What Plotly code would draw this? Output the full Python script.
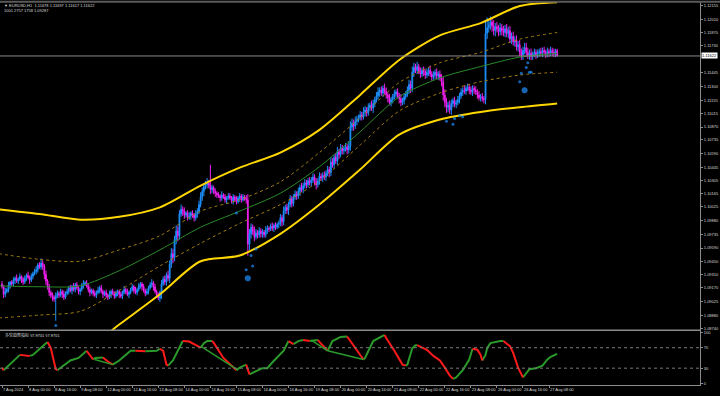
import plotly.graph_objects as go

# ---------------- data ----------------
first_open = 1.0921
close = [
 1.0918, 1.0910, 1.0913, 1.0915, 1.0920, 1.0923, 1.0921, 1.0925, 1.0927, 1.0924,
 1.0926, 1.0929, 1.0926, 1.0923, 1.0927, 1.0930, 1.0928, 1.0925, 1.0929, 1.0932,
 1.0934, 1.0936, 1.0941, 1.0939, 1.0943, 1.0940, 1.0931, 1.0924, 1.0918, 1.0912,
 1.0909, 1.0907, 1.0905, 1.0908, 1.0911, 1.0909, 1.0913, 1.0910, 1.0907, 1.0911,
 1.0913, 1.0917, 1.0914, 1.0918, 1.0915, 1.0920, 1.0917, 1.0913, 1.0915, 1.0919,
 1.0921, 1.0922, 1.0919, 1.0915, 1.0912, 1.0914, 1.0911, 1.0909, 1.0912, 1.0914,
 1.0917, 1.0913, 1.0910, 1.0912, 1.0909, 1.0907, 1.0910, 1.0913, 1.0911, 1.0908,
 1.0911, 1.0913, 1.0910, 1.0908, 1.0912, 1.0915, 1.0913, 1.0910, 1.0912, 1.0915,
 1.0918, 1.0914, 1.0912, 1.0915, 1.0919, 1.0921, 1.0918, 1.0914, 1.0911, 1.0913,
 1.0917, 1.0920, 1.0922, 1.0918, 1.0913, 1.0909, 1.0906, 1.0912, 1.0921, 1.0926,
 1.0923, 1.0930, 1.0927, 1.0942, 1.0953, 1.0949, 1.0968, 1.0977, 1.0972, 1.0995,
 1.1000, 1.0998, 1.0994, 1.0996, 1.0992, 1.0993, 1.0996, 1.0994, 1.0991, 1.0995,
 1.0998, 1.1005, 1.1013, 1.1019, 1.1024, 1.1026, 1.1028, 1.1025, 1.1021, 1.1023,
 1.1019, 1.1017, 1.1015, 1.1014, 1.1012, 1.1015, 1.1013, 1.1010, 1.1012, 1.1014,
 1.1012, 1.1009, 1.1013, 1.1010, 1.1008, 1.1012, 1.1014, 1.1010, 1.1013, 1.1012,
 1.1010, 1.0963, 1.0974, 1.0981, 1.0977, 1.0971, 1.0975, 1.0973, 1.0977, 1.0974,
 1.0976, 1.0973, 1.0978, 1.0980, 1.0979, 1.0982, 1.0980, 1.0983, 1.0981, 1.0984,
 1.0985, 1.0991, 1.0987, 1.0998, 1.1002, 1.0999, 1.1005, 1.1011, 1.1006, 1.1013,
 1.1016, 1.1014, 1.1019, 1.1023, 1.1021, 1.1025, 1.1028, 1.1026, 1.1030, 1.1028,
 1.1031, 1.1034, 1.1029, 1.1026, 1.1030, 1.1035, 1.1033, 1.1036, 1.1034, 1.1038,
 1.1042, 1.1039, 1.1050, 1.1047, 1.1055, 1.1051, 1.1061, 1.1058, 1.1065, 1.1062,
 1.1064, 1.1066, 1.1063, 1.1067, 1.1087, 1.1091, 1.1088, 1.1093, 1.1095, 1.1097,
 1.1100, 1.1098, 1.1103, 1.1105, 1.1102, 1.1108, 1.1110, 1.1107, 1.1112, 1.1116,
 1.1120, 1.1124, 1.1126, 1.1123, 1.1128, 1.1125, 1.1121, 1.1118, 1.1113, 1.1116,
 1.1119, 1.1122, 1.1124, 1.1120, 1.1117, 1.1113, 1.1115, 1.1119, 1.1122, 1.1126,
 1.1132, 1.1128, 1.1145, 1.1150, 1.1147, 1.1151, 1.1146, 1.1143, 1.1147, 1.1145,
 1.1142, 1.1145, 1.1147, 1.1143, 1.1140, 1.1142, 1.1145, 1.1141, 1.1143, 1.1139,
 1.1135, 1.1121, 1.1113, 1.1108, 1.1110, 1.1105, 1.1112, 1.1115, 1.1111, 1.1113,
 1.1116, 1.1120, 1.1124, 1.1126, 1.1125, 1.1128, 1.1129, 1.1126, 1.1124, 1.1128,
 1.1126, 1.1124, 1.1121, 1.1118, 1.1119, 1.1117, 1.1116, 1.1186, 1.1192, 1.1195,
 1.1198, 1.1194, 1.1189, 1.1193, 1.1191, 1.1188, 1.1192, 1.1189, 1.1187, 1.1191,
 1.1186, 1.1189, 1.1180, 1.1183, 1.1177, 1.1179, 1.1172, 1.1174, 1.1166, 1.1163,
 1.1168, 1.1171, 1.1166, 1.1163, 1.1165, 1.1162, 1.1164, 1.1166, 1.1163, 1.1165,
 1.1167, 1.1165, 1.1168, 1.1166, 1.1164, 1.1167, 1.1165, 1.1168, 1.1166, 1.1164,
 1.11678, 1.11622,
]
# wick lengths beyond the candle body, in pips (0.0001)
wick_up_pips = [
 3,2,4,2,3,1,2,3,2,4, 2,3,1,2,3,2,4,2,3,2, 3,4,2,3,5,3,2,4,2,3, 2,3,2,4,3,2,3,2,4,2,
 3,2,3,2,4,2,3,2,2,3, 4,2,3,2,3,2,2,3,2,4, 2,3,2,2,3,2,4,2,3,2, 3,2,2,3,2,4,2,3,2,2,
 3,2,4,2,3,2,2,3,2,3, 2,3,4,2,3,2,3,2,4,3, 4,3,5,4,6,5,4,6,5,4, 5,3,4,2,3,4,2,3,2,4,
 3,4,5,4,3,4,5,3,2,3, 2,3,2,3,2,4,2,3,2,3, 3,2,3,2,4,2,3,2,3,2, 3,6,5,4,3,5,4,3,4,3,
 3,2,4,3,2,3,4,2,3,2, 3,4,3,5,3,4,3,4,3,3, 4,3,4,3,5,3,4,3,3,4, 3,4,3,4,3,4,3,3,4,3,
 4,3,5,4,3,4,5,3,4,3, 3,4,3,5,6,5,4,5,4,3, 4,3,5,4,3,4,3,5,4,3, 4,5,3,4,3,5,4,3,4,3,
 3,4,3,4,3,5,3,4,3,4, 5,4,6,5,4,5,3,4,3,4, 3,4,3,5,3,4,3,4,3,4, 4,5,6,5,4,5,4,3,4,3,
 4,3,4,3,5,3,4,3,4,3, 3,4,3,4,3,4,3,8,7,6, 6,5,6,4,5,4,5,4,5,4, 5,4,5,4,5,4,5,4,5,4,
 4,5,4,5,4,5,3,4,3,4, 3,4,3,4,3,4,3,4,3,4, 2,3,
]
wick_dn_pips = [
 2,4,3,2,3,4,2,3,4,2, 3,2,4,3,2,3,2,4,2,3, 2,3,3,2,3,4,5,4,3,4, 3,4,3,6,2,3,2,4,3,2,
 2,3,2,4,2,3,2,3,4,2, 3,2,2,3,4,2,3,2,3,2, 3,2,4,2,3,3,2,4,2,3, 2,3,4,2,3,2,3,2,4,2,
 2,3,2,3,2,3,4,2,3,2, 3,2,3,4,2,3,2,4,3,2, 3,4,3,5,4,6,4,5,6,4, 3,5,4,3,4,3,4,3,4,3,
 4,3,3,4,5,3,4,3,5,4, 3,4,3,2,4,3,2,3,4,2, 2,3,4,2,3,2,4,3,2,3, 4,8,6,5,4,5,3,4,3,4,
 4,3,3,4,3,2,3,4,3,2, 4,3,5,4,3,4,5,3,4,3, 3,4,3,5,3,4,3,4,3,3, 4,3,4,5,3,4,3,4,3,4,
 3,5,4,3,4,3,4,5,3,4, 4,3,5,4,5,4,5,3,4,3, 3,4,3,5,4,3,4,3,5,4, 3,4,5,3,4,3,4,5,3,4,
 4,3,4,3,5,4,3,4,3,3, 4,5,4,5,3,4,3,4,3,4, 4,3,4,3,4,3,4,3,4,3, 5,6,5,6,5,4,5,4,3,4,
 3,4,3,4,3,4,3,4,3,4, 4,3,4,3,4,3,4,5,6,5, 5,6,5,6,4,5,4,5,4,5, 4,5,4,5,4,5,4,5,4,5,
 5,4,5,4,5,4,4,3,4,3, 4,3,4,3,4,3,4,3,4,3, 3,2,
]
spike_highs = {128: 1.1047, 213: 1.1070, 297: 1.1200, 298: 1.1203, 322: 1.1176, 341: 1.11697}
spike_lows = {33: 1.0882, 98: 1.0905, 151: 1.0951, 273: 1.1103, 341: 1.11617}

band_bars   = [-2, 23, 48, 72, 97, 122, 146, 171, 195, 220, 244, 269, 294, 318, 341]
upper_outer = [1.1000, 1.0995, 1.0989, 1.0992, 1.1002, 1.1025, 1.1044, 1.1060, 1.1084, 1.1121, 1.1158, 1.1184, 1.1197, 1.1215, 1.1219]
upper_inner = [1.0953, 1.0947, 1.0945, 1.0957, 1.0972, 1.0998, 1.1010, 1.1029, 1.1060, 1.1097, 1.1134, 1.1155, 1.1166, 1.1180, 1.1187]
middle_line = [1.0919, 1.0918, 1.0919, 1.0935, 1.0957, 1.0981, 1.0998, 1.1017, 1.1045, 1.1082, 1.1119, 1.1139, 1.1151, 1.1161, 1.1165]
lower_inner = [1.0885, 1.0888, 1.0892, 1.0914, 1.0940, 1.0964, 1.0985, 1.1005, 1.1030, 1.1068, 1.1104, 1.1123, 1.1135, 1.1142, 1.1145]
lower_outer = [1.0836, 1.0839, 1.0847, 1.0878, 1.0910, 1.0945, 1.0951, 1.0974, 1.1005, 1.1042, 1.1079, 1.1095, 1.1103, 1.1108, 1.1112]

dot_bars   = [33, 144, 150, 151, 153, 154, 156, 273, 277, 278, 281, 283, 318, 319, 321, 322, 323, 324, 325]
dot_prices = [1.0877, 1.0996, 1.0936, 1.0927, 1.0951, 1.0940, 1.0958, 1.1093, 1.1090, 1.1096, 1.1099, 1.1098,
              1.1135, 1.1144, 1.1126, 1.1150, 1.1155, 1.1145, 1.1145]
dot_sizes  = [3, 3, 3, 6, 3, 3, 3, 3, 3, 3, 3, 3, 3, 3, 6, 3, 3, 3, 3]

osc_bars = [0,1,7,11,17,19,26,28,30,33,34,42,47,52,56,57,62,65,68,72,79,82,88,95,97,99,101,102,105,111,
            115,122,124,126,129,130,136,142,144,146,150,151,152,157,160,163,166,173,176,179,182,185,189,192,194,
            200,203,208,211,212,216,219,222,223,228,235,236,241,246,248,249,252,254,255,261,265,269,272,275,277,
            279,283,287,289,292,294,295,297,298,300,306,308,312,314,317,320,321,324,328,332,335,337,341]
osc_vals = [31,26,43,56,54,56,76,81,69,28,26,45,50,64,47,50,51,43,37,45,64,64,63,64,68,64,37,35,45,83,
            82,70,79,83,83,80,50,31,26,31,37,27,18,26,30,30,41,64,83,77,83,85,83,85,85,
            64,83,91,92,92,73,60,47,50,83,95,89,64,37,35,37,69,75,75,66,54,45,31,16,9,
            12,26,47,68,66,56,45,56,69,79,83,83,73,60,31,12,16,28,30,35,47,52,58]
divergence_lines = [((57, 47), (68, 37)), ((122, 73), (145, 26)), ((190, 85), (200, 64)), ((200, 64), (222, 47))]

x_tick_bars = list(range(0, 337, 16))
x_tick_text = ['7 Aug 2024', '8 Aug 00:00', '8 Aug 16:00', '9 Aug 08:00', '12 Aug 00:00', '12 Aug 16:00',
               '13 Aug 08:00', '14 Aug 00:00', '14 Aug 16:00', '15 Aug 08:00', '16 Aug 00:00', '16 Aug 16:00',
               '19 Aug 08:00', '20 Aug 00:00', '20 Aug 16:00', '21 Aug 08:00', '22 Aug 00:00', '22 Aug 16:00',
               '23 Aug 08:00', '26 Aug 00:00', '26 Aug 16:00', '27 Aug 08:00']
y_tick_text = ['1.12155', '1.12010', '1.11870', '1.11730', '1.11445', '1.11300', '1.11155', '1.11015',
               '1.10870', '1.10735', '1.10590', '1.10445', '1.10305', '1.10165', '1.10025', '1.09880', '1.09735',
               '1.09590', '1.09450', '1.09310', '1.09170', '1.09025', '1.08880', '1.08740']
osc_levels = [0, 30, 70, 100]
current_price = 1.11622
title_line1 = '▼ EURUSD,H1  1.11678 1.11697 1.11617 1.11622'
title_line2 = '1001 2757 1758 1.09287'
osc_label = '多空趋势指标 57.9701 57.9701'

# ---------------- styles ----------------
BLUE = '#1E90FF'
MAG = '#F020F0'
GOLD = '#FFD700'
DGOLD = '#A07A10'
MIDGREEN = '#2A8A2A'
OSC_GREEN = '#2A9A2A'
OSC_RED = '#FF1A1A'
AXC = '#8C8C8C'
TXT = '#D8D8D8'
FONT = 'Liberation Sans'
W, H = 720, 396
PX_RIGHT = 700

def py(px):
    return (H - px) / H

bars = list(range(len(close)))
opens = [first_open] + close[:-1]
highs = [max(o, c) + u * 0.0001 for o, c, u in zip(opens, close, wick_up_pips)]
lows = [min(o, c) - d * 0.0001 for o, c, d in zip(opens, close, wick_dn_pips)]
for b, v in spike_highs.items():
    highs[b] = max(highs[b], v) if b != 341 else v
for b, v in spike_lows.items():
    lows[b] = min(lows[b], v) if b != 341 else v

fig = go.Figure()

for arr, col, wd, dash in [(upper_outer, GOLD, 2, 'solid'), (lower_outer, GOLD, 2, 'solid'),
                           (upper_inner, DGOLD, 1, 'dot'), (lower_inner, DGOLD, 1, 'dot'),
                           (middle_line, MIDGREEN, 1, 'solid')]:
    fig.add_trace(go.Scatter(x=band_bars, y=arr, mode='lines', xaxis='x', yaxis='y',
                             line=dict(color=col, width=wd, dash=dash, shape='spline', smoothing=0.8),
                             hoverinfo='skip', showlegend=False))

fig.add_trace(go.Candlestick(x=bars, open=opens, high=highs, low=lows, close=close,
                             xaxis='x', yaxis='y', whiskerwidth=0,
                             increasing=dict(line=dict(color=BLUE, width=1), fillcolor=BLUE),
                             decreasing=dict(line=dict(color=MAG, width=1), fillcolor=MAG),
                             hoverinfo='skip', showlegend=False))

fig.add_trace(go.Scatter(x=dot_bars, y=dot_prices, mode='markers', xaxis='x', yaxis='y',
                         marker=dict(color=BLUE, size=dot_sizes, line=dict(width=0)),
                         hoverinfo='skip', showlegend=False))

runs = {'g': ([], []), 'r': ([], [])}
prev = None
for i in range(len(osc_bars) - 1):
    c = 'g' if osc_vals[i + 1] >= osc_vals[i] else 'r'
    xs, ys = runs[c]
    if c != prev:
        if xs:
            xs.append(None); ys.append(None)
        xs.append(osc_bars[i]); ys.append(osc_vals[i])
    xs.append(osc_bars[i + 1]); ys.append(osc_vals[i + 1])
    prev = c
for key, col in [('g', OSC_GREEN), ('r', OSC_RED)]:
    fig.add_trace(go.Scatter(x=runs[key][0], y=runs[key][1], mode='lines', xaxis='x', yaxis='y2',
                             line=dict(color=col, width=2), connectgaps=False,
                             hoverinfo='skip', showlegend=False))
for (a, b) in divergence_lines:
    fig.add_trace(go.Scatter(x=[a[0], b[0]], y=[a[1], b[1]], mode='lines', xaxis='x', yaxis='y2',
                             line=dict(color=OSC_GREEN, width=1.5), hoverinfo='skip', showlegend=False))

xr = [-1.23, (PX_RIGHT - 2) / 1.628]
tickfont = dict(family=FONT, size=4, color=TXT)
y_tick_vals = [float(t) for t in y_tick_text]

shapes = [
    dict(type='line', xref='paper', yref='y', x0=0, x1=PX_RIGHT / W, y0=current_price, y1=current_price,
         line=dict(color='#8A8A8A', width=1)),
    dict(type='line', xref='paper', yref='paper', x0=0, x1=PX_RIGHT / W, y0=py(331), y1=py(331),
         line=dict(color=AXC, width=1.5)),
    dict(type='line', xref='paper', yref='paper', x0=0, x1=1, y0=py(0.8), y1=py(0.8),
         line=dict(color='#5A5A5A', width=2)),
]
for lv in [30, 70]:
    shapes.append(dict(type='line', xref='paper', yref='y2', x0=0, x1=PX_RIGHT / W, y0=lv, y1=lv,
                       line=dict(color='#7A7A7A', width=1, dash='dot')))

annotations = [
    dict(xref='paper', yref='paper', x=2 / W, y=py(5), xanchor='left', yanchor='middle', showarrow=False,
         text=title_line1, font=dict(family=FONT, size=4, color=TXT)),
    dict(xref='paper', yref='paper', x=2 / W, y=py(10), xanchor='left', yanchor='middle', showarrow=False,
         text=title_line2, font=dict(family=FONT, size=4, color=TXT)),
    dict(xref='paper', yref='paper', x=3 / W, y=py(336), xanchor='left', yanchor='middle', showarrow=False,
         text=osc_label, font=dict(family='Noto Sans CJK SC', size=4, color=TXT)),
    dict(xref='paper', yref='y', x=(PX_RIGHT + 1) / W, y=current_price, xanchor='left', yanchor='middle',
         showarrow=False, text='1.11622', bgcolor='#FFFFFF', borderpad=0,
         font=dict(family=FONT, size=4, color='#000000')),
]

fig.update_layout(
    width=W, height=H, margin=dict(l=0, r=0, t=0, b=0),
    paper_bgcolor='#000000', plot_bgcolor='#000000', hovermode=False,
    xaxis=dict(domain=[0, PX_RIGHT / W], anchor='y2', range=xr, tickvals=x_tick_bars, ticktext=x_tick_text,
               tickangle=0, ticklabelposition='outside right', ticks='outside', ticklen=2, tickcolor=AXC,
               tickfont=tickfont, showline=True, linecolor=AXC, linewidth=1, showgrid=False, zeroline=False,
               rangeslider=dict(visible=False), fixedrange=True),
    yaxis=dict(domain=[py(331), py(1)], anchor='x', side='right', range=[1.08719, 1.12193],
               tickvals=y_tick_vals, ticktext=y_tick_text, ticks='outside', ticklen=2, tickcolor=AXC,
               tickfont=tickfont, showline=True, linecolor=AXC, linewidth=1, showgrid=False, zeroline=False),
    yaxis2=dict(domain=[py(386), py(331)], anchor='x', side='right', range=[-3, 104],
                tickvals=osc_levels, ticktext=[str(v) for v in osc_levels], ticks='outside', ticklen=2,
                tickcolor=AXC, tickfont=tickfont, showline=True, linecolor=AXC, linewidth=1,
                showgrid=False, zeroline=False),
    shapes=shapes, annotations=annotations,
)

fig.write_html('out.html')
